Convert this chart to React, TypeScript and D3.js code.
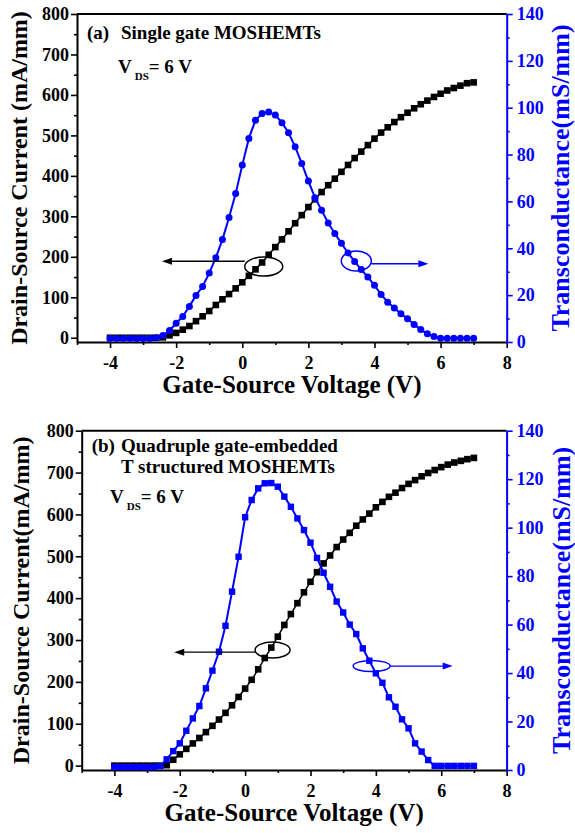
import React, { useEffect, useRef } from "react";
import * as d3 from "d3";

// gate-source voltage sweep (V)
const vgs = [
  -4, -3.8, -3.6, -3.4, -3.2, -3, -2.8, -2.6, -2.4, -2.2, -2, -1.8, -1.6, -1.4,
  -1.2, -1, -0.8, -0.6, -0.4, -0.2, 0, 0.2, 0.4, 0.6, 0.8, 1, 1.2, 1.4, 1.6,
  1.8, 2, 2.2, 2.4, 2.6, 2.8, 3, 3.2, 3.4, 3.6, 3.8, 4, 4.2, 4.4, 4.6, 4.8, 5,
  5.2, 5.4, 5.6, 5.8, 6, 6.2, 6.4, 6.6, 6.8, 7,
];

// (a) single gate
const idsSingle = [
  0, 0, 0, 0, 0, 0, 0, 0, 1, 6, 12, 20, 29, 41, 53, 66, 81, 95, 108, 122, 137,
  153, 169, 186, 205, 224, 243, 263, 283, 303, 323, 342, 360, 377, 393, 410,
  427, 444, 460, 476, 492, 507, 520, 533, 545, 556, 567, 577, 586, 595, 603,
  611, 617, 623, 629, 631,
];
const gmSingle = [
  1.5, 1.5, 1.5, 1.5, 1.5, 1.5, 1.5, 1.8, 2.8, 4.9, 8, 10.9, 15.2, 19.9, 23.7,
  29.4, 36, 43.7, 53.1, 63.4, 75.5, 86.9, 94.7, 97.5, 98.2, 96.9, 93.6, 89.3,
  83.3, 76.2, 68.7, 61.6, 56.2, 50.8, 46.3, 42.1, 38, 34.4, 30.9, 27.7, 24.2,
  20.3, 17, 14.5, 12.1, 9.9, 7.5, 5.3, 3.5, 2.4, 1.6, 1.6, 1.6, 1.6, 1.6, 1.6,
];

// (b) quadruple gate-embedded
const idsQuad = [
  0, 0, 0, 0, 0, 0, 0, 0, 1, 14, 27, 40, 53, 66, 80, 95, 110, 126, 144, 164,
  184, 205, 230, 257, 282, 308, 336, 362, 388, 414, 439, 462, 483, 502, 522,
  540, 556, 573, 588, 602, 617, 630, 642, 652, 663, 673, 682, 691, 699, 706,
  713, 719, 724, 728, 732, 735,
];
const gmQuad = [
  1.2, 1.2, 1.2, 1.2, 1.2, 1.2, 1.2, 1.6, 4.4, 7.8, 11, 16.2, 21.3, 26.4, 33.7,
  41, 48.8, 59.5, 73.6, 88, 104.3, 111.4, 116.2, 118.3, 118.4, 116.9, 112.8,
  108.6, 103.8, 99, 93.8, 87.5, 81.4, 75.6, 69.5, 65, 60, 56.1, 50.2, 45.1,
  39.9, 36, 30, 26.1, 20.9, 17.2, 11, 7.6, 4.1, 1.7, 1.7, 1.7, 1.7, 1.7, 1.7,
  1.7,
];

const xTicks = [-4, -2, 0, 2, 4, 6, 8];
const xMinor = [-5, -3, -1, 1, 3, 5, 7];
const idsTicks = [0, 100, 200, 300, 400, 500, 600, 700, 800];
const idsMinor = [50, 150, 250, 350, 450, 550, 650, 750];
const gmTicks = [0, 20, 40, 60, 80, 100, 120, 140];
const gmMinor = [10, 30, 50, 70, 90, 110, 130];

const BLUE = "#0000ff";
const FONT = "'Liberation Serif', 'Times New Roman', serif";

const panels = [
  {
    key: "a",
    box: { left: 77, right: 506.7, top: 14, bottom: 342 },
    ids: idsSingle,
    gm: gmSingle,
    gmMarker: "circle",
    leftTitle: "Drain-Source Current (mA/mm)",
    leftTitleX: 27,
    rightTitleX: 569,
    tag: "(a)",
    lines: ["Single gate MOSHEMTs"],
    textTop: 39,
    vdsX: 118,
    vdsY: 73,
    blackMark: { v: 0.65, val: 176, rx: 19, ry: 9.5, arrowVal: 189, tip: -2.43 },
    blueMark: { v: 3.45, val: 34.6, rx: 15, ry: 10, arrowVal: 33.4, tip: 5.63 },
  },
  {
    key: "b",
    box: { left: 81.7, right: 506.6, top: 430.7, bottom: 770 },
    ids: idsQuad,
    gm: gmQuad,
    gmMarker: "square",
    leftTitle: "Drain-Source Current(mA/mm)",
    leftTitleX: 29,
    rightTitleX: 570,
    tag: "(b)",
    lines: ["Quadruple gate-embedded", "T structured MOSHEMTs"],
    textTop: 452,
    vdsX: 110,
    vdsY: 503,
    blackMark: { v: 0.84, val: 276, rx: 17.5, ry: 8, arrowVal: 271, tip: -2.17 },
    blueMark: { v: 3.87, val: 42.9, rx: 18.5, ry: 5.5, arrowVal: 42.9, tip: 6.35 },
  },
];

function styleAxis(sel, color) {
  sel.attr("font-family", FONT).attr("font-size", 18).attr("font-weight", "bold");
  sel.select(".domain").attr("stroke", color).attr("stroke-width", 2);
  sel.selectAll(".tick line").attr("stroke", color).attr("stroke-width", 1.6);
  sel.selectAll(".tick text").attr("fill", color);
}

function Panel({ cfg }) {
  const ref = useRef(null);

  useEffect(() => {
    const g = d3.select(ref.current);
    g.selectAll("*").remove();
    const { left, right, top, bottom } = cfg.box;

    const x = d3.scaleLinear().domain([-5, 8]).range([left, right]);
    const yL = d3.scaleLinear().domain([-10.5, 800]).range([bottom, top]);
    const yR = d3.scaleLinear().domain([0, 140]).range([bottom, top]);
    const fmt = (d) => String(d);

    // frame top
    g.append("line")
      .attr("x1", left).attr("x2", right)
      .attr("y1", top).attr("y2", top)
      .attr("stroke", "#000").attr("stroke-width", 2);

    // bottom axis
    g.append("g").attr("transform", `translate(0,${bottom})`)
      .call(d3.axisBottom(x).tickValues(xMinor).tickSize(3).tickFormat(() => ""))
      .call((s) => { styleAxis(s, "#000"); s.select(".domain").remove(); });
    g.append("g").attr("transform", `translate(0,${bottom})`)
      .call(d3.axisBottom(x).tickValues(xTicks).tickSize(6).tickSizeOuter(0).tickPadding(8).tickFormat(fmt))
      .call((s) => styleAxis(s, "#000"));

    // left axis
    g.append("g").attr("transform", `translate(${left},0)`)
      .call(d3.axisLeft(yL).tickValues(idsMinor).tickSize(3).tickFormat(() => ""))
      .call((s) => { styleAxis(s, "#000"); s.select(".domain").remove(); });
    g.append("g").attr("transform", `translate(${left},0)`)
      .call(d3.axisLeft(yL).tickValues(idsTicks).tickSize(6).tickSizeOuter(0).tickPadding(2).tickFormat(fmt))
      .call((s) => styleAxis(s, "#000"));

    // right axis
    g.append("g").attr("transform", `translate(${right},0)`)
      .call(d3.axisRight(yR).tickValues(gmMinor).tickSize(3).tickFormat(() => ""))
      .call((s) => { styleAxis(s, BLUE); s.select(".domain").remove(); });
    g.append("g").attr("transform", `translate(${right},0)`)
      .call(d3.axisRight(yR).tickValues(gmTicks).tickSize(6).tickSizeOuter(0).tickPadding(4).tickFormat(fmt))
      .call((s) => styleAxis(s, BLUE));

    // drain current (black squares)
    const idsLine = d3.line().x((d, i) => x(vgs[i])).y((d) => yL(d));
    g.append("path").datum(cfg.ids)
      .attr("d", idsLine).attr("fill", "none")
      .attr("stroke", "#000").attr("stroke-width", 1.5);
    g.append("g").selectAll("rect").data(cfg.ids).enter().append("rect")
      .attr("x", (d, i) => x(vgs[i]) - 3.3)
      .attr("y", (d) => yL(d) - 3.3)
      .attr("width", 6.6).attr("height", 6.6)
      .attr("fill", "#000");

    // transconductance (blue)
    const gmLine = d3.line().x((d, i) => x(vgs[i])).y((d) => yR(d));
    g.append("path").datum(cfg.gm)
      .attr("d", gmLine).attr("fill", "none")
      .attr("stroke", BLUE).attr("stroke-width", 2);
    if (cfg.gmMarker === "circle") {
      g.append("g").selectAll("circle").data(cfg.gm).enter().append("circle")
        .attr("cx", (d, i) => x(vgs[i]))
        .attr("cy", (d) => yR(d))
        .attr("r", 3.5).attr("fill", BLUE);
    } else {
      g.append("g").selectAll("rect").data(cfg.gm).enter().append("rect")
        .attr("x", (d, i) => x(vgs[i]) - 3.2)
        .attr("y", (d) => yR(d) - 3.2)
        .attr("width", 6.4).attr("height", 6.4)
        .attr("fill", BLUE);
    }

    // ellipse + arrow markers
    const mark = (m, yScale, color, dir) => {
      const cx = x(m.v), cy = yScale(m.val), ay = yScale(m.arrowVal);
      g.append("ellipse")
        .attr("cx", cx).attr("cy", cy).attr("rx", m.rx).attr("ry", m.ry)
        .attr("fill", "none").attr("stroke", color).attr("stroke-width", 1.5);
      const start = cx + dir * m.rx;
      const tip = x(m.tip);
      g.append("line")
        .attr("x1", start).attr("x2", tip - dir * 6)
        .attr("y1", ay).attr("y2", ay)
        .attr("stroke", color).attr("stroke-width", 1.3);
      g.append("path")
        .attr("d", `M${tip},${ay}L${tip - dir * 10},${ay - 3.5}L${tip - dir * 10},${ay + 3.5}Z`)
        .attr("fill", color);
    };
    mark(cfg.blackMark, yL, "#000", -1);
    mark(cfg.blueMark, yR, BLUE, 1);

    // axis titles
    g.append("text")
      .attr("x", (left + right) / 2).attr("y", bottom + 51)
      .attr("text-anchor", "middle")
      .attr("font-family", FONT).attr("font-weight", "bold").attr("font-size", 25)
      .text("Gate-Source Voltage (V)");
    g.append("text")
      .attr("transform", `translate(${cfg.leftTitleX},${(top + bottom) / 2}) rotate(-90)`)
      .attr("text-anchor", "middle")
      .attr("font-family", FONT).attr("font-weight", "bold").attr("font-size", 24)
      .text(cfg.leftTitle);
    g.append("text")
      .attr("transform", `translate(${cfg.rightTitleX},${(top + bottom) / 2}) rotate(-90)`)
      .attr("text-anchor", "middle")
      .attr("fill", BLUE)
      .attr("font-family", FONT).attr("font-weight", "bold").attr("font-size", 26)
      .text("Transconductance(mS/mm)");

    // panel notes
    const note = g.append("g").attr("font-family", FONT).attr("font-weight", "bold").attr("font-size", 19);
    note.append("text").attr("x", left + 10).attr("y", cfg.textTop).text(cfg.tag);
    cfg.lines.forEach((t, i) => {
      note.append("text").attr("x", 121).attr("y", cfg.textTop + i * 21).text(t);
    });
    const vds = note.append("text").attr("x", cfg.vdsX).attr("y", cfg.vdsY);
    vds.append("tspan").text("V");
    vds.append("tspan").attr("dx", 3).attr("dy", 7).attr("font-size", 11).text("DS");
    vds.append("tspan").attr("dy", -7).text("= 6 V");
  }, [cfg]);

  return <g ref={ref} />;
}

export default function App() {
  return (
    <svg
      width={575}
      height={833}
      style={{ position: "absolute", left: 0, top: 0, background: "#fff" }}
    >
      {panels.map((p) => (
        <Panel key={p.key} cfg={p} />
      ))}
    </svg>
  );
}
